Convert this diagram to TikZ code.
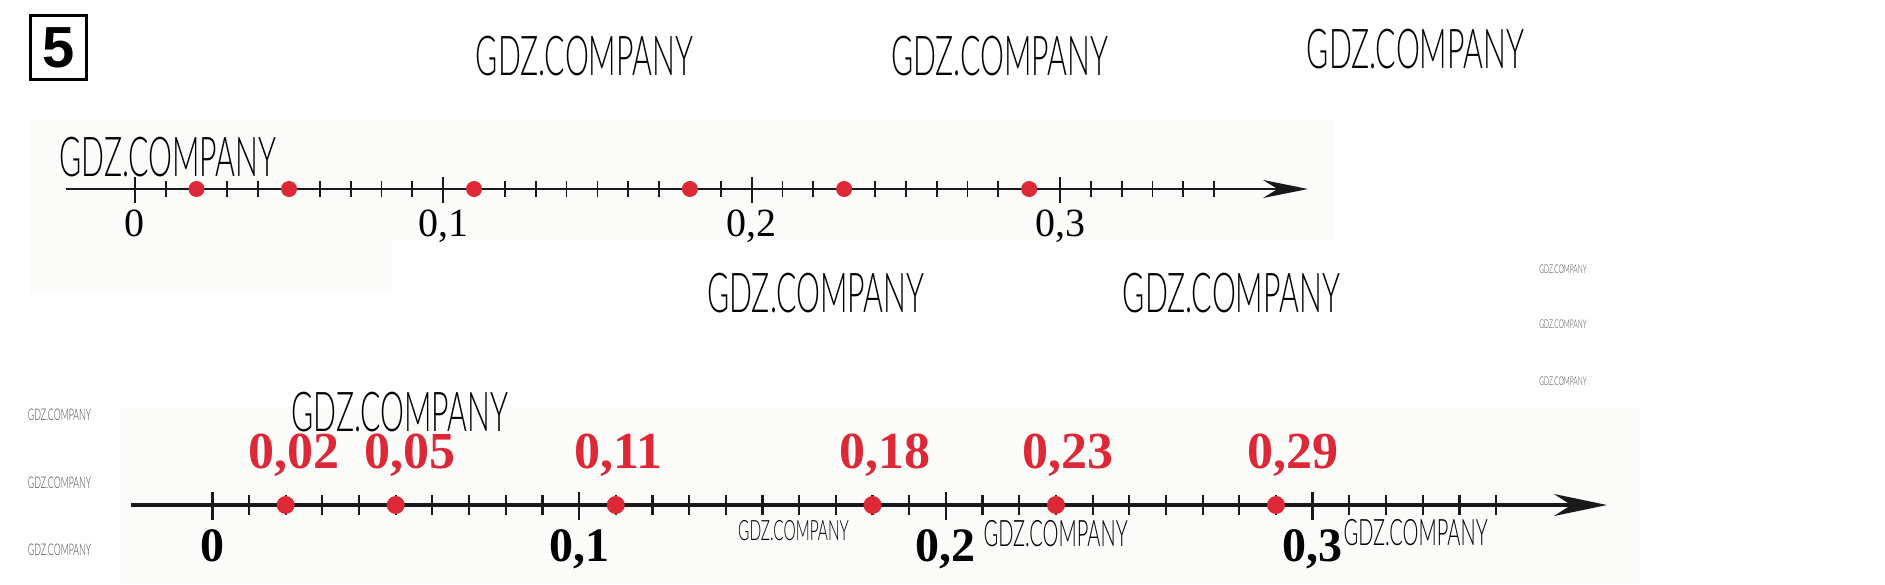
\documentclass[tikz,border=0pt]{standalone}
\usepackage{fontspec}
\setmainfont{Liberation Serif}
\newfontfamily\wmfont[FakeStretch=0.55]{Lato Light}
\newfontfamily\boxfont{Liberation Sans}
\usetikzlibrary{arrows.meta}

\definecolor{ptred}{RGB}{221,40,56}
\definecolor{scan}{RGB}{251,251,250}
\newcommand{\fsz}[1]{\fontsize{#1}{#1}\selectfont}

\begin{document}
\begin{tikzpicture}[
    x=1pt, y=-1pt,
    wm/.style={inner sep=0pt, font=\wmfont\fsz{#1}},
    tick/.style={line width=#1, black!90},
    dot/.style={circle, fill=ptred, inner sep=0pt, minimum size=#1},
    toplab/.style={anchor=base, inner sep=0pt, font=\fsz{40}},
    botlab/.style={anchor=base, inner sep=0pt, font=\bfseries\fsz{48}},
    redlab/.style={anchor=base, inner sep=0pt, text=ptred, font=\bfseries\fsz{52}},
]
    \useasboundingbox (0,0) rectangle (1885,584);

    % scanned backgrounds
    \fill[scan] (30,120) rectangle (1335,240);
    \fill[scan] (30,240) rectangle (392,295);
    \fill[scan] (120,408) rectangle (1640,584);

    % exercise number
    \node[draw, line width=3.5pt, minimum width=56pt, minimum height=64pt, inner sep=0pt,
        font=\boxfont\bfseries\fsz{58}] (ex) at (58.5,47.5) {5};

    % upper number line
    \coordinate (ta) at (66,189);
    \coordinate (tb) at (1308,189);
    \draw[line width=2.6pt, black!90, -{Stealth[length=45pt, width=18pt]}] (ta) -- (tb);
    \foreach \i in {0,...,35}
        \draw[tick=1.8pt] (134.8+30.84*\i,181) -- ++(0,16);
    \foreach \i in {0,10,20,30}
        \draw[tick=2pt] (134.8+30.84*\i,177) -- ++(0,26);
    \foreach \v in {2,5,11,18,23,29}
        \node[dot=16pt] (t\v) at (134.8+30.84*\v,189) {};
    \node[toplab] (t0lab) at (134.8,236) {0};
    \node[toplab] (t10lab) at (443.2,236) {0,1};
    \node[toplab] (t20lab) at (751.6,236) {0,2};
    \node[toplab] (t30lab) at (1060,236) {0,3};

    % lower number line
    \coordinate (ba) at (131,505);
    \coordinate (bb) at (1607,505);
    \draw[line width=3.5pt, black!90, -{Stealth[length=53pt, width=22pt]}] (ba) -- (bb);
    \foreach \i in {0,...,35}
        \draw[tick=2.2pt] (212.3+36.68*\i,495) -- ++(0,20);
    \foreach \i in {0,10,20,30}
        \draw[tick=2.6pt] (212.3+36.68*\i,492) -- ++(0,28);
    \foreach \v in {2,5,11,18,23,29}
        \node[dot=18pt] (b\v) at (212.3+36.68*\v,505) {};
    \foreach \v/\dx/\txt in {2/8/{0,02}, 5/14/{0,05}, 11/3/{0,11}, 18/12/{0,18}, 23/12/{0,23}, 29/17/{0,29}}
        \node[redlab] (b\v lab) at (212.3+36.68*\v+\dx,468) {\txt};
    \node[botlab] (b0lab) at (212.3,561) {0};
    \node[botlab] (b10lab) at (579,561) {0,1};
    \node[botlab] (b20lab) at (945.9,561) {0,2};
    \node[botlab] (b30lab) at (1312.7,561) {0,3};

    % watermarks
    \node[wm=55] (w1) at (584.5,56.5) {GDZ.COMPANY};
    \node[wm=55] (w2) at (999.6,56.5) {GDZ.COMPANY};
    \node[wm=55] (w3) at (1415.5,49.3) {GDZ.COMPANY};
    \node[wm=55] (w4) at (168,157.5) {GDZ.COMPANY};
    \node[wm=55] (w5) at (815.8,293) {GDZ.COMPANY};
    \node[wm=55] (w6) at (1231.5,293) {GDZ.COMPANY};
    \node[wm=55] (w7) at (400,412) {GDZ.COMPANY};
    \node[wm=28] (w8) at (793.5,531) {GDZ.COMPANY};
    \node[wm=36.5] (w9) at (1055.6,534) {GDZ.COMPANY};
    \node[wm=36.5] (w10) at (1415.6,533) {GDZ.COMPANY};
    \node[wm=12, black!75] (w11) at (1563,269) {GDZ.COMPANY};
    \node[wm=12, black!75] (w12) at (1563,324.5) {GDZ.COMPANY};
    \node[wm=12, black!75] (w13) at (1563,381) {GDZ.COMPANY};
    \node[wm=16, black!75] (w14) at (59.5,415) {GDZ.COMPANY};
    \node[wm=16, black!75] (w15) at (59.5,483) {GDZ.COMPANY};
    \node[wm=16, black!75] (w16) at (59.5,550) {GDZ.COMPANY};
\end{tikzpicture}
\end{document}
